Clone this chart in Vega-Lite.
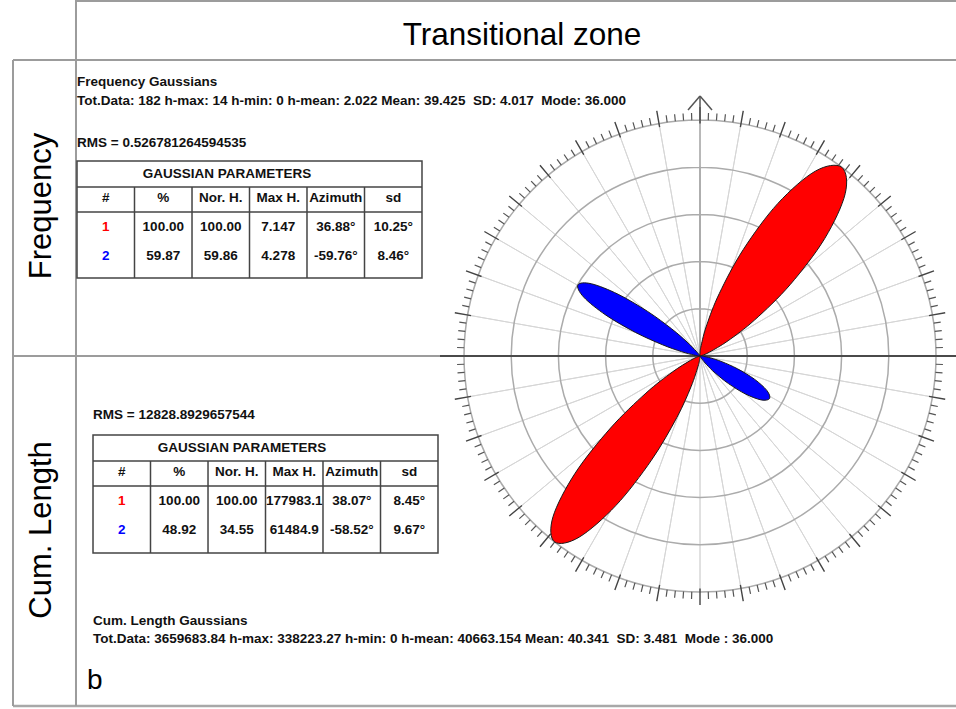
{
"$schema": "https://vega.github.io/schema/vega-lite/v6.json",
"width": 956, "height": 709, "padding": 0,
"autosize": {"type": "none"},
"background": "#ffffff",
"config": {"view": {"stroke": null}, "axis": {"disable": true}, "legend": {"disable": true}, "text": {"font": "Liberation Sans"}},
"datasets": {
"deg": [{"deg":0},{"deg":2},{"deg":4},{"deg":6},{"deg":8},{"deg":10},{"deg":12},{"deg":14},{"deg":16},{"deg":18},{"deg":20},{"deg":22},{"deg":24},{"deg":26},{"deg":28},{"deg":30},{"deg":32},{"deg":34},{"deg":36},{"deg":38},{"deg":40},{"deg":42},{"deg":44},{"deg":46},{"deg":48},{"deg":50},{"deg":52},{"deg":54},{"deg":56},{"deg":58},{"deg":60},{"deg":62},{"deg":64},{"deg":66},{"deg":68},{"deg":70},{"deg":72},{"deg":74},{"deg":76},{"deg":78},{"deg":80},{"deg":82},{"deg":84},{"deg":86},{"deg":88},{"deg":90},{"deg":92},{"deg":94},{"deg":96},{"deg":98},{"deg":100},{"deg":102},{"deg":104},{"deg":106},{"deg":108},{"deg":110},{"deg":112},{"deg":114},{"deg":116},{"deg":118},{"deg":120},{"deg":122},{"deg":124},{"deg":126},{"deg":128},{"deg":130},{"deg":132},{"deg":134},{"deg":136},{"deg":138},{"deg":140},{"deg":142},{"deg":144},{"deg":146},{"deg":148},{"deg":150},{"deg":152},{"deg":154},{"deg":156},{"deg":158},{"deg":160},{"deg":162},{"deg":164},{"deg":166},{"deg":168},{"deg":170},{"deg":172},{"deg":174},{"deg":176},{"deg":178},{"deg":180},{"deg":182},{"deg":184},{"deg":186},{"deg":188},{"deg":190},{"deg":192},{"deg":194},{"deg":196},{"deg":198},{"deg":200},{"deg":202},{"deg":204},{"deg":206},{"deg":208},{"deg":210},{"deg":212},{"deg":214},{"deg":216},{"deg":218},{"deg":220},{"deg":222},{"deg":224},{"deg":226},{"deg":228},{"deg":230},{"deg":232},{"deg":234},{"deg":236},{"deg":238},{"deg":240},{"deg":242},{"deg":244},{"deg":246},{"deg":248},{"deg":250},{"deg":252},{"deg":254},{"deg":256},{"deg":258},{"deg":260},{"deg":262},{"deg":264},{"deg":266},{"deg":268},{"deg":270},{"deg":272},{"deg":274},{"deg":276},{"deg":278},{"deg":280},{"deg":282},{"deg":284},{"deg":286},{"deg":288},{"deg":290},{"deg":292},{"deg":294},{"deg":296},{"deg":298},{"deg":300},{"deg":302},{"deg":304},{"deg":306},{"deg":308},{"deg":310},{"deg":312},{"deg":314},{"deg":316},{"deg":318},{"deg":320},{"deg":322},{"deg":324},{"deg":326},{"deg":328},{"deg":330},{"deg":332},{"deg":334},{"deg":336},{"deg":338},{"deg":340},{"deg":342},{"deg":344},{"deg":346},{"deg":348},{"deg":350},{"deg":352},{"deg":354},{"deg":356},{"deg":358}],
"rings": [{"r":20},{"r":40},{"r":60},{"r":80},{"r":100}],
"red": [
{"p":"A","i":0,"x":0,"y":0},{"p":"A","i":1,"x":0.0,"y":1.11},{"p":"A","i":2,"x":0.47,"y":4.36},{"p":"A","i":3,"x":2.88,"y":13.22},{"p":"A","i":4,"x":8.22,"y":26.56},{"p":"A","i":5,"x":18.33,"y":45.10},{"p":"A","i":6,"x":33.01,"y":64.67},{"p":"A","i":7,"x":48.86,"y":78.32},{"p":"A","i":8,"x":60.02,"y":79.99},{"p":"A","i":9,"x":61.53,"y":68.82},{"p":"A","i":10,"x":52.85,"y":49.80},{"p":"A","i":11,"x":38.17,"y":30.21},{"p":"A","i":12,"x":23.20,"y":15.32},{"p":"A","i":13,"x":11.89,"y":6.46},{"p":"A","i":14,"x":4.06,"y":1.67},{"p":"A","i":15,"x":1.07,"y":0.31},
{"p":"C","i":0,"x":0,"y":0},{"p":"C","i":1,"x":-0.10,"y":-1.11},{"p":"C","i":2,"x":-0.82,"y":-4.31},{"p":"C","i":3,"x":-3.79,"y":-12.99},{"p":"C","i":4,"x":-9.80,"y":-26.02},{"p":"C","i":5,"x":-20.57,"y":-44.12},{"p":"C","i":6,"x":-35.59,"y":-63.29},{"p":"C","i":7,"x":-51.23,"y":-76.78},{"p":"C","i":8,"x":-61.66,"y":-78.73},{"p":"C","i":9,"x":-62.29,"y":-68.13},{"p":"C","i":10,"x":-52.93,"y":-49.70},{"p":"C","i":11,"x":-37.91,"y":-30.54},{"p":"C","i":12,"x":-22.92,"y":-15.74},{"p":"C","i":13,"x":-11.70,"y":-6.79},{"p":"C","i":14,"x":-3.99,"y":-1.83},{"p":"C","i":15,"x":-1.05,"y":-0.37}
],
"blue": [
{"p":"B","i":0,"x":0,"y":0},{"p":"B","i":1,"x":-0.66,"y":0.06},{"p":"B","i":2,"x":-2.60,"y":0.42},{"p":"B","i":3,"x":-7.88,"y":1.87},{"p":"B","i":4,"x":-15.94,"y":4.78},{"p":"B","i":5,"x":-27.37,"y":10.01},{"p":"B","i":6,"x":-39.86,"y":17.31},{"p":"B","i":7,"x":-49.30,"y":24.97},{"p":"B","i":8,"x":-51.72,"y":30.15},{"p":"B","i":9,"x":-46.02,"y":30.60},{"p":"B","i":10,"x":-34.71,"y":26.16},{"p":"B","i":11,"x":-22.20,"y":18.88},{"p":"B","i":12,"x":-12.02,"y":11.51},{"p":"B","i":13,"x":-5.51,"y":5.94},{"p":"B","i":14,"x":-1.64,"y":2.05},{"p":"B","i":15,"x":-0.37,"y":0.54},
{"p":"D","i":0,"x":0,"y":0},{"p":"D","i":1,"x":0.38,"y":0.0},{"p":"D","i":2,"x":1.51,"y":-0.14},{"p":"D","i":3,"x":4.59,"y":-0.85},{"p":"D","i":4,"x":9.29,"y":-2.43},{"p":"D","i":5,"x":15.91,"y":-5.44},{"p":"D","i":6,"x":23.08,"y":-9.84},{"p":"D","i":7,"x":28.34,"y":-14.62},{"p":"D","i":8,"x":29.46,"y":-18.04},{"p":"D","i":9,"x":25.90,"y":-18.60},{"p":"D","i":10,"x":19.25,"y":-16.09},{"p":"D","i":11,"x":12.08,"y":-11.70},{"p":"D","i":12,"x":6.39,"y":-7.17},{"p":"D","i":13,"x":2.84,"y":-3.70},{"p":"D","i":14,"x":0.81,"y":-1.29},{"p":"D","i":15,"x":0.17,"y":-0.34}
],
"tab1": [
{"row":"h","col":"#","v":"#"},{"row":"h","col":"%","v":"%"},{"row":"h","col":"Nor. H.","v":"Nor. H."},{"row":"h","col":"Max H.","v":"Max H."},{"row":"h","col":"Azimuth","v":"Azimuth"},{"row":"h","col":"sd","v":"sd"},
{"row":"1","col":"#","v":"1"},{"row":"1","col":"%","v":"100.00"},{"row":"1","col":"Nor. H.","v":"100.00"},{"row":"1","col":"Max H.","v":"7.147"},{"row":"1","col":"Azimuth","v":"36.88°"},{"row":"1","col":"sd","v":"10.25°"},
{"row":"2","col":"#","v":"2"},{"row":"2","col":"%","v":"59.87"},{"row":"2","col":"Nor. H.","v":"59.86"},{"row":"2","col":"Max H.","v":"4.278"},{"row":"2","col":"Azimuth","v":"-59.76°"},{"row":"2","col":"sd","v":"8.46°"}
],
"tab2": [
{"row":"h","col":"#","v":"#"},{"row":"h","col":"%","v":"%"},{"row":"h","col":"Nor. H.","v":"Nor. H."},{"row":"h","col":"Max H.","v":"Max H."},{"row":"h","col":"Azimuth","v":"Azimuth"},{"row":"h","col":"sd","v":"sd"},
{"row":"1","col":"#","v":"1"},{"row":"1","col":"%","v":"100.00"},{"row":"1","col":"Nor. H.","v":"100.00"},{"row":"1","col":"Max H.","v":"177983.1"},{"row":"1","col":"Azimuth","v":"38.07°"},{"row":"1","col":"sd","v":"8.45°"},
{"row":"2","col":"#","v":"2"},{"row":"2","col":"%","v":"48.92"},{"row":"2","col":"Nor. H.","v":"34.55"},{"row":"2","col":"Max H.","v":"61484.9"},{"row":"2","col":"Azimuth","v":"-58.52°"},{"row":"2","col":"sd","v":"9.67°"}
]
},
"layer": [
{
"data": {"values": [{}]},
"layer": [
{"mark": {"type":"rule","stroke":"#9c9c9c","strokeWidth":2}, "encoding": {"x": {"datum": -264.41, "axis": null, "scale": {"domain":[-296.61,108.47],"nice":false,"zero":false}}, "x2": {"datum": 108.47}, "y": {"datum": 150.42, "axis": null, "scale": {"domain":[-149.58,150.85],"nice":false,"zero":false}}}},
{"mark": {"type":"rule","stroke":"#9c9c9c","strokeWidth":2}, "encoding": {"x": {"datum": -291.10, "axis": null}, "x2": {"datum": 108.47}, "y": {"datum": 125.42, "axis": null}}},
{"mark": {"type":"rule","stroke":"#9c9c9c","strokeWidth":2}, "encoding": {"x": {"datum": -291.10, "axis": null}, "x2": {"datum": 108.47}, "y": {"datum": 0, "axis": null}}},
{"mark": {"type":"rule","stroke":"#a8a8a8","strokeWidth":2.5}, "encoding": {"x": {"datum": -291.10, "axis": null}, "x2": {"datum": 108.47}, "y": {"datum": -148.31, "axis": null}}},
{"mark": {"type":"rule","stroke":"#9c9c9c","strokeWidth":2}, "encoding": {"x": {"datum": -291.10, "axis": null}, "y": {"datum": 125.42, "axis": null}, "y2": {"datum": -148.31}}},
{"mark": {"type":"rule","stroke":"#9c9c9c","strokeWidth":2}, "encoding": {"x": {"datum": -264.41, "axis": null}, "y": {"datum": 150.85, "axis": null}, "y2": {"datum": -148.31}}},
{"data": {"name": "deg"}, "transform": [{"filter": "datum.deg % 10 === 0"}],
 "mark": {"type":"arc","filled":false,"stroke":"#d6d6d6","strokeWidth":1},
 "encoding": {"x": {"datum": 0, "axis": null}, "y": {"datum": 0, "axis": null},
  "theta": {"field":"deg","type":"quantitative","stack":null,"scale":{"type":"linear","domain":[0,360],"range":[0,6.283185],"nice":false,"zero":false}},
  "theta2": {"field":"deg"},
  "radius": {"datum": 100, "scale": {"type":"linear","domain":[0,100],"range":[0,236],"nice":false,"zero":true}},
  "radius2": {"datum": 0}}},
{"data": {"name": "rings"},
 "mark": {"type":"arc","filled":false,"stroke":"#ababab","strokeWidth":1.5},
 "encoding": {"x": {"datum": 0, "axis": null}, "y": {"datum": 0, "axis": null},
  "theta": {"value": 0}, "theta2": {"value": 6.283185},
  "radius": {"field":"r","type":"quantitative","stack":null,"scale": {"type":"linear","domain":[0,100],"range":[0,236],"nice":false,"zero":true}}}},
{"data": {"name": "deg"}, "transform": [{"filter": "datum.deg % 10 !== 0"}],
 "mark": {"type":"arc","filled":false,"stroke":"#555555","strokeWidth":1.2},
 "encoding": {"x": {"datum": 0, "axis": null}, "y": {"datum": 0, "axis": null},
  "theta": {"field":"deg","type":"quantitative","stack":null,"scale":{"type":"linear","domain":[0,360],"range":[0,6.283185],"nice":false,"zero":false}},
  "theta2": {"field":"deg"},
  "radius": {"datum": 103}, "radius2": {"datum": 100}}},
{"data": {"name": "deg"}, "transform": [{"filter": "datum.deg % 10 === 0"}],
 "mark": {"type":"arc","filled":false,"stroke":"#444444","strokeWidth":1.4},
 "encoding": {"x": {"datum": 0, "axis": null}, "y": {"datum": 0, "axis": null},
  "theta": {"field":"deg","type":"quantitative","stack":null,"scale":{"type":"linear","domain":[0,360],"range":[0,6.283185],"nice":false,"zero":false}},
  "theta2": {"field":"deg"},
  "radius": {"datum": 105.5}, "radius2": {"datum": 98.5}}},
{"mark": {"type":"rule","stroke":"#4a4a4a","strokeWidth":2}, "encoding": {"x": {"datum": -110.17, "axis": null}, "x2": {"datum": 108.47}, "y": {"datum": 0, "axis": null}}},
{"mark": {"type":"rule","stroke":"#555555","strokeWidth":1.5}, "encoding": {"x": {"datum": 0, "axis": null}, "y": {"datum": 100, "axis": null}, "y2": {"datum": 110.2}}},
{"mark": {"type":"rule","stroke":"#555555","strokeWidth":1.5}, "encoding": {"x": {"datum": -5.08, "axis": null}, "y": {"datum": 104.2, "axis": null}, "x2": {"datum": 0}, "y2": {"datum": 110.2}}},
{"mark": {"type":"rule","stroke":"#555555","strokeWidth":1.5}, "encoding": {"x": {"datum": 5.08, "axis": null}, "y": {"datum": 104.2, "axis": null}, "x2": {"datum": 0}, "y2": {"datum": 110.2}}},
{"data": {"name": "red"},
 "mark": {"type":"line","interpolate":"cardinal-closed","fill":"#ff0000","stroke":"#1a1a1a","strokeWidth":1},
 "encoding": {"x": {"field":"x","type":"quantitative","axis":null,"scale": {"domain":[-296.61,108.47],"nice":false,"zero":false}}, "y": {"field":"y","type":"quantitative","axis":null,"scale": {"domain":[-149.58,150.85],"nice":false,"zero":false}}, "order": {"field":"i","type":"quantitative"}, "detail": {"field":"p"}}},
{"data": {"name": "blue"},
 "mark": {"type":"line","interpolate":"cardinal-closed","fill":"#0000ff","stroke":"#1a1a1a","strokeWidth":1},
 "encoding": {"x": {"field":"x","type":"quantitative","axis":null}, "y": {"field":"y","type":"quantitative","axis":null}, "order": {"field":"i","type":"quantitative"}, "detail": {"field":"p"}}},
{"mark": {"type":"text","text":"Transitional zone","align":"center","baseline":"alphabetic","fontSize":31.5,"font":"Liberation Sans","color":"#000000"}, "encoding": {"x": {"datum": -75.42, "axis": null}, "y": {"datum": 131.78, "axis": null}}},
{"mark": {"type":"text","text":"Frequency","align":"center","baseline":"middle","angle":270,"fontSize":31,"font":"Liberation Sans","color":"#000000"}, "encoding": {"x": {"datum": -278.81, "axis": null}, "y": {"datum": 63.56, "axis": null}}},
{"mark": {"type":"text","text":"Cum. Length","align":"center","baseline":"middle","angle":270,"fontSize":31,"font":"Liberation Sans","color":"#000000"}, "encoding": {"x": {"datum": -278.81, "axis": null}, "y": {"datum": -73.73, "axis": null}}},
{"mark": {"type":"text","text":"Frequency Gaussians","align":"left","baseline":"alphabetic","fontSize":13.5,"fontWeight":"bold","font":"Liberation Sans","color":"#111111"}, "encoding": {"x": {"datum": -263.98, "axis": null}, "y": {"datum": 114.41, "axis": null}}},
{"mark": {"type":"text","text":"Tot.Data: 182 h-max: 14 h-min: 0 h-mean: 2.022 Mean: 39.425 \u00a0SD: 4.017 \u00a0Mode: 36.000","align":"left","baseline":"alphabetic","fontSize":13.5,"fontWeight":"bold","font":"Liberation Sans","color":"#111111"}, "encoding": {"x": {"datum": -263.98, "axis": null}, "y": {"datum": 106.36, "axis": null}}},
{"mark": {"type":"text","text":"RMS = 0.526781264594535","align":"left","baseline":"alphabetic","fontSize":13.5,"fontWeight":"bold","font":"Liberation Sans","color":"#111111"}, "encoding": {"x": {"datum": -263.98, "axis": null}, "y": {"datum": 88.56, "axis": null}}},
{"mark": {"type":"text","text":"RMS = 12828.8929657544","align":"left","baseline":"alphabetic","fontSize":13.5,"fontWeight":"bold","font":"Liberation Sans","color":"#111111"}, "encoding": {"x": {"datum": -257.20, "axis": null}, "y": {"datum": -26.69, "axis": null}}},
{"mark": {"type":"text","text":"Cum. Length Gaussians","align":"left","baseline":"alphabetic","fontSize":13.5,"fontWeight":"bold","font":"Liberation Sans","color":"#111111"}, "encoding": {"x": {"datum": -257.20, "axis": null}, "y": {"datum": -113.98, "axis": null}}},
{"mark": {"type":"text","text":"Tot.Data: 3659683.84 h-max: 338223.27 h-min: 0 h-mean: 40663.154 Mean: 40.341 \u00a0SD: 3.481 \u00a0Mode : 36.000","align":"left","baseline":"alphabetic","fontSize":13.5,"fontWeight":"bold","font":"Liberation Sans","color":"#111111"}, "encoding": {"x": {"datum": -257.20, "axis": null}, "y": {"datum": -121.61, "axis": null}}},
{"mark": {"type":"text","text":"b","align":"left","baseline":"alphabetic","fontSize":28,"font":"Liberation Sans","color":"#000000"}, "encoding": {"x": {"datum": -259.75, "axis": null}, "y": {"datum": -141.10, "axis": null}}},
{"mark": {"type":"text","text":"GAUSSIAN PARAMETERS","align":"center","baseline":"middle","fontSize":13.5,"fontWeight":"bold","font":"Liberation Sans","color":"#111111"}, "encoding": {"x": {"datum": -200.42, "axis": null}, "y": {"datum": 77.12, "axis": null}}},
{"mark": {"type":"text","text":"GAUSSIAN PARAMETERS","align":"center","baseline":"middle","fontSize":13.5,"fontWeight":"bold","font":"Liberation Sans","color":"#111111"}, "encoding": {"x": {"datum": -194.07, "axis": null}, "y": {"datum": -38.98, "axis": null}}},
{"mark": {"type":"rect","filled":false,"stroke":"#444444","strokeWidth":1.5}, "encoding": {"x": {"datum": -263.98, "axis": null}, "x2": {"datum": -117.80}, "y": {"datum": 82.63, "axis": null}, "y2": {"datum": 33.05}}},
{"mark": {"type":"rule","stroke":"#444444","strokeWidth":1.5}, "encoding": {"x": {"datum": -263.98, "axis": null}, "x2": {"datum": -117.80}, "y": {"datum": 71.61, "axis": null}}},
{"mark": {"type":"rule","stroke":"#444444","strokeWidth":1.5}, "encoding": {"x": {"datum": -263.98, "axis": null}, "x2": {"datum": -117.80}, "y": {"datum": 61.02, "axis": null}}},
{"mark": {"type":"rule","stroke":"#444444","strokeWidth":1.5}, "encoding": {"x": {"datum": -239.62, "axis": null}, "y": {"datum": 71.61, "axis": null}, "y2": {"datum": 33.05}}},
{"mark": {"type":"rule","stroke":"#444444","strokeWidth":1.5}, "encoding": {"x": {"datum": -215.25, "axis": null}, "y": {"datum": 71.61, "axis": null}, "y2": {"datum": 33.05}}},
{"mark": {"type":"rule","stroke":"#444444","strokeWidth":1.5}, "encoding": {"x": {"datum": -190.89, "axis": null}, "y": {"datum": 71.61, "axis": null}, "y2": {"datum": 33.05}}},
{"mark": {"type":"rule","stroke":"#444444","strokeWidth":1.5}, "encoding": {"x": {"datum": -166.53, "axis": null}, "y": {"datum": 71.61, "axis": null}, "y2": {"datum": 33.05}}},
{"mark": {"type":"rule","stroke":"#444444","strokeWidth":1.5}, "encoding": {"x": {"datum": -142.16, "axis": null}, "y": {"datum": 71.61, "axis": null}, "y2": {"datum": 33.05}}},
{"mark": {"type":"rect","filled":false,"stroke":"#444444","strokeWidth":1.5}, "encoding": {"x": {"datum": -257.20, "axis": null}, "x2": {"datum": -111.02}, "y": {"datum": -33.47, "axis": null}, "y2": {"datum": -83.47}}},
{"mark": {"type":"rule","stroke":"#444444","strokeWidth":1.5}, "encoding": {"x": {"datum": -257.20, "axis": null}, "x2": {"datum": -111.02}, "y": {"datum": -44.49, "axis": null}}},
{"mark": {"type":"rule","stroke":"#444444","strokeWidth":1.5}, "encoding": {"x": {"datum": -257.20, "axis": null}, "x2": {"datum": -111.02}, "y": {"datum": -55.08, "axis": null}}},
{"mark": {"type":"rule","stroke":"#444444","strokeWidth":1.5}, "encoding": {"x": {"datum": -232.84, "axis": null}, "y": {"datum": -44.49, "axis": null}, "y2": {"datum": -83.47}}},
{"mark": {"type":"rule","stroke":"#444444","strokeWidth":1.5}, "encoding": {"x": {"datum": -208.47, "axis": null}, "y": {"datum": -44.49, "axis": null}, "y2": {"datum": -83.47}}},
{"mark": {"type":"rule","stroke":"#444444","strokeWidth":1.5}, "encoding": {"x": {"datum": -184.11, "axis": null}, "y": {"datum": -44.49, "axis": null}, "y2": {"datum": -83.47}}},
{"mark": {"type":"rule","stroke":"#444444","strokeWidth":1.5}, "encoding": {"x": {"datum": -159.75, "axis": null}, "y": {"datum": -44.49, "axis": null}, "y2": {"datum": -83.47}}},
{"mark": {"type":"rule","stroke":"#444444","strokeWidth":1.5}, "encoding": {"x": {"datum": -135.38, "axis": null}, "y": {"datum": -44.49, "axis": null}, "y2": {"datum": -83.47}}}
]
},
{
"data": {"name": "tab1"},
"mark": {"type":"text","align":"center","baseline":"middle","fontSize":13.5,"fontWeight":"bold","font":"Liberation Sans"},
"encoding": {
 "x": {"field":"col","type":"nominal","axis":null,"scale":{"domain":["#","%","Nor. H.","Max H.","Azimuth","sd"],"range":[77,422],"paddingInner":0,"paddingOuter":0}},
 "y": {"field":"row","type":"nominal","axis":null,"scale":{"domain":["h","1","2"],"range":[183.5,270.5],"paddingInner":0,"paddingOuter":0}},
 "text": {"field":"v","type":"nominal"},
 "color": {"condition":[{"test":"datum.col === '#' && datum.row === '1'","value":"#ff0000"},{"test":"datum.col === '#' && datum.row === '2'","value":"#0000ff"}],"value":"#111111"}
}
},
{
"data": {"name": "tab2"},
"mark": {"type":"text","align":"center","baseline":"middle","fontSize":13.5,"fontWeight":"bold","font":"Liberation Sans"},
"encoding": {
 "x": {"field":"col","type":"nominal","axis":null,"scale":{"domain":["#","%","Nor. H.","Max H.","Azimuth","sd"],"range":[93,438],"paddingInner":0,"paddingOuter":0}},
 "y": {"field":"row","type":"nominal","axis":null,"scale":{"domain":["h","1","2"],"range":[457.5,544.5],"paddingInner":0,"paddingOuter":0}},
 "text": {"field":"v","type":"nominal"},
 "color": {"condition":[{"test":"datum.col === '#' && datum.row === '1'","value":"#ff0000"},{"test":"datum.col === '#' && datum.row === '2'","value":"#0000ff"}],"value":"#111111"}
}
}
],
"resolve": {"scale": {"x": "independent", "y": "independent"}}
}
